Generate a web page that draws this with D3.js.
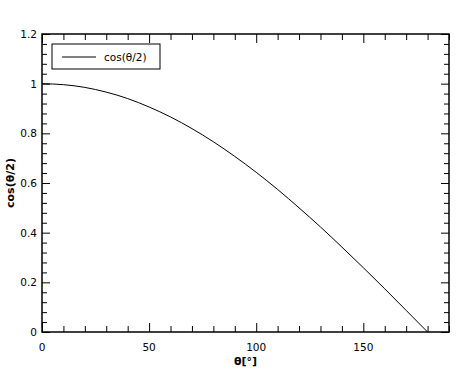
<!DOCTYPE html>
<html>
<head>
<meta charset="utf-8">
<script src="https://cdn.jsdelivr.net/npm/d3@7"></script>
<style>
    body { margin: 0; background: #fff; }
    text { font-family: "DejaVu Sans", Verdana, sans-serif; fill: #000; }
</style>
</head>
<body>
<div id="chart"></div>
<script>
// Data
var thetaDeg = [0, 10, 20, 30, 40, 50, 60, 70, 80, 90, 100, 110, 120, 130, 140, 150, 160, 170, 180];
var cosHalf = [1, 0.996, 0.985, 0.966, 0.940, 0.906, 0.866, 0.819, 0.766, 0.707,
               0.643, 0.574, 0.5, 0.423, 0.342, 0.259, 0.174, 0.087, 0];
var xTicks = [0, 50, 100, 150];
var yTicks = [0, 0.2, 0.4, 0.6, 0.8, 1, 1.2];
var seriesName = 'cos(θ/2)';

var width = 472, height = 377;
var margin = { top: 34, right: 23, bottom: 45, left: 42 };
var w = width - margin.left - margin.right,
    h = height - margin.top - margin.bottom;

var data = thetaDeg.map(function(t, i) { return { x: t, y: cosHalf[i] }; });

var xScale = d3.scaleLinear().domain([0, 190]).range([0, w]);
var yScale = d3.scaleLinear().domain([0, 1.2]).range([h, 0]);

var svg = d3.select('#chart').append('svg')
    .attr('width', width).attr('height', height);
var g = svg.append('g')
    .attr('transform', 'translate(' + margin.left + ',' + margin.top + ')');

// Minor / major ticks on all four sides, pointing inward
var xMinor = d3.range(0, 191, 10).filter(function(v) { return v % 50 !== 0; });
var yMinor = d3.range(0, 1.2001, 0.04).filter(function(v) {
    return Math.abs(v * 5 - Math.round(v * 5)) > 1e-6;
});

function ticks(sel, axis, len) {
    sel.call(axis.tickSize(len).tickFormat(''))
        .call(function(s) { s.select('.domain').remove(); })
        .selectAll('line').attr('stroke', '#000');
}
ticks(g.append('g').attr('transform', 'translate(0,' + h + ')'), d3.axisTop(xScale).tickValues(xTicks), 9);
ticks(g.append('g').attr('transform', 'translate(0,' + h + ')'), d3.axisTop(xScale).tickValues(xMinor), 6);
ticks(g.append('g'), d3.axisBottom(xScale).tickValues(xTicks), 9);
ticks(g.append('g'), d3.axisBottom(xScale).tickValues(xMinor), 6);
ticks(g.append('g'), d3.axisRight(yScale).tickValues(yTicks), 8);
ticks(g.append('g'), d3.axisRight(yScale).tickValues(yMinor), 5);
ticks(g.append('g').attr('transform', 'translate(' + w + ',0)'), d3.axisLeft(yScale).tickValues(yTicks), 8);
ticks(g.append('g').attr('transform', 'translate(' + w + ',0)'), d3.axisLeft(yScale).tickValues(yMinor), 5);

// Frame
g.append('rect')
    .attr('width', w).attr('height', h)
    .attr('fill', 'none').attr('stroke', '#000').attr('stroke-width', 1.5);

// Tick labels
g.selectAll('.xlab').data(xTicks).enter().append('text')
    .attr('x', function(d) { return xScale(d); })
    .attr('y', h + 19)
    .attr('text-anchor', 'middle')
    .style('font-size', '10.5px')
    .text(function(d) { return d; });
g.selectAll('.ylab').data(yTicks).enter().append('text')
    .attr('x', -5)
    .attr('y', function(d) { return yScale(d) + 4; })
    .attr('text-anchor', 'end')
    .style('font-size', '10.5px')
    .text(function(d) { return d; });

// Axis titles
g.append('text')
    .attr('x', w / 2).attr('y', h + 33)
    .attr('text-anchor', 'middle')
    .style('font-size', '11px').style('font-weight', 'bold')
    .text('θ[°]');
g.append('text')
    .attr('transform', 'translate(' + (-28) + ',' + (h / 2) + ') rotate(-90)')
    .attr('text-anchor', 'middle')
    .style('font-size', '11px').style('font-weight', 'bold')
    .text('cos(θ/2)');

// Curve
var line = d3.line()
    .x(function(d) { return xScale(d.x); })
    .y(function(d) { return yScale(d.y); })
    .curve(d3.curveMonotoneX);
g.append('path').datum(data)
    .attr('d', line)
    .attr('fill', 'none').attr('stroke', '#000').attr('stroke-width', 1);

// Legend
var leg = g.append('g').attr('transform', 'translate(10,10)');
leg.append('rect')
    .attr('width', 108).attr('height', 25)
    .attr('fill', '#fff').attr('stroke', '#000').attr('stroke-width', 1);
leg.append('line')
    .attr('x1', 10).attr('x2', 44).attr('y1', 13).attr('y2', 13)
    .attr('stroke', '#000');
leg.append('text')
    .attr('x', 52).attr('y', 17)
    .style('font-size', '10.5px')
    .text(seriesName);
</script>
</body>
</html>
